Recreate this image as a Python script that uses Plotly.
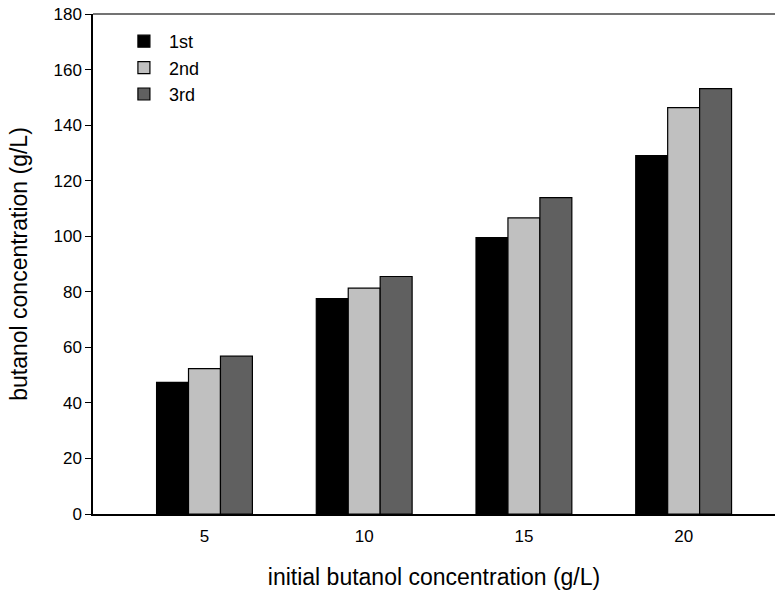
import plotly.graph_objects as go

categories = [5, 10, 15, 20]
first = [47.4, 77.5, 99.5, 129.0]
second = [52.3, 81.3, 106.6, 146.3]
third = [56.8, 85.5, 113.9, 153.1]
series_names = ["1st", "2nd", "3rd"]
colors = ["#000000", "#c0c0c0", "#606060"]

fig = go.Figure()
for name, vals, col in zip(series_names, [first, second, third], colors):
    fig.add_trace(go.Bar(
        x=categories, y=vals, name=name,
        marker=dict(color=col, line=dict(color="#000000", width=1.2)),
    ))

font = "Liberation Sans, Arial, sans-serif"
fig.update_layout(
    width=778, height=593,
    margin=dict(l=93, r=3, t=14, b=79, autoexpand=False),
    paper_bgcolor="white", plot_bgcolor="white",
    barmode="group", bargap=0.4, bargroupgap=0,
    font=dict(family=font, size=17, color="black"),
    showlegend=True,
    legend=dict(x=0.038, y=0.982, xanchor="left", yanchor="top",
                bgcolor="rgba(0,0,0,0)", font=dict(size=18, family=font),
                itemwidth=40, tracegroupgap=0),
    xaxis=dict(
        range=[1.51, 22.86], tickmode="array", tickvals=categories,
        ticktext=[str(c) for c in categories],
        showline=True, linecolor="black", linewidth=1.5,
        ticks="", showgrid=False, zeroline=False, automargin=False,
        ticklabelstandoff=6,
        title=dict(text="initial butanol concentration (g/L)", font=dict(size=23), standoff=24),
        tickfont=dict(size=17),
    ),
    yaxis=dict(
        range=[0, 180], tickmode="array", tickvals=list(range(0, 181, 20)),
        showline=True, linecolor="black", linewidth=1.5,
        ticks="outside", ticklen=6, tickcolor="black", tickwidth=1,
        showgrid=False, zeroline=False, ticklabeloverflow="allow", automargin=False,
        title=dict(text="butanol concentration (g/L)", font=dict(size=23), standoff=19),
        tickfont=dict(size=17),
    ),
    shapes=[dict(type="line", xref="paper", yref="paper", x0=0, x1=1, y0=1, y1=1,
                 line=dict(color="#444444", width=1.5))],
)

fig.write_html("out.html", config={"displayModeBar": False},
               post_script="document.body.style.margin='0';")
